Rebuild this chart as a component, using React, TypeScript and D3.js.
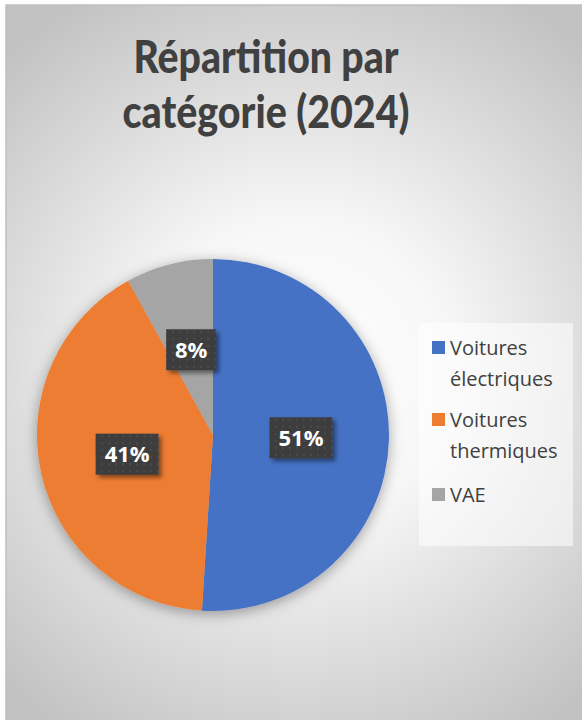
import React from "react";
import * as d3 from "d3";

// chart data
const categories = ["Voitures électriques", "Voitures thermiques", "VAE"];
const legendLines = [["Voitures", "électriques"], ["Voitures", "thermiques"], ["VAE"]];
const shares = [51, 41, 8];
const colors = ["#4472C4", "#ED7D31", "#A5A5A5"];
const titleLines = ["Répartition par", "catégorie (2024)"];
const titleWidths = [265, 287];

const W = 582;
const H = 720;
const cx = 213;
const cy = 435;
const radius = 176;

const App = () => {
  const data = shares.map((v, i) => ({ name: categories[i], value: v, color: colors[i] }));

  const pie = d3
    .pie<any>()
    .sort(null)
    .value((d) => d.value)
    .startAngle(0)
    .endAngle(2 * Math.PI);

  const arcs = pie(data);
  const arc = d3.arc<any>().innerRadius(0).outerRadius(radius);
  const total = d3.sum(shares);

  // legend rows: marker + wrapped label lines
  const legendX = 432;
  const itemTops = [341, 413, 488];

  return (
    <svg
      width={W}
      height={H}
      style={{ position: "absolute", left: 0, top: 0 }}
      fontFamily="'Open Sans', Lato, sans-serif"
    >
      <defs>
        <radialGradient id="bg" cx="300" cy="370" r="430" gradientUnits="userSpaceOnUse">
          <stop offset="0" stopColor="#ffffff" />
          <stop offset="0.35" stopColor="#f7f7f7" />
          <stop offset="1" stopColor="#c2c2c2" />
        </radialGradient>
        <filter id="pieShadow" x="-20%" y="-20%" width="140%" height="140%">
          <feDropShadow dx="0" dy="3" stdDeviation="7" floodColor="#000" floodOpacity="0.35" />
        </filter>
        <filter id="boxShadow" x="-30%" y="-30%" width="160%" height="160%">
          <feDropShadow dx="3" dy="3" stdDeviation="2" floodColor="#000" floodOpacity="0.45" />
        </filter>
        <pattern id="dots" width="7" height="7" patternUnits="userSpaceOnUse">
          <rect width="7" height="7" fill="#3d3d3d" />
          <rect x="2" y="2" width="2" height="2" fill="#4b4b4b" />
        </pattern>
      </defs>

      <rect x={0} y={0} width={W} height={H} fill="#ffffff" />
      <rect x={6} y={5} width={W + 10} height={H + 10} fill="url(#bg)" stroke="#c0c0c0" strokeWidth={1.5} />

      {titleLines.map((t, i) => (
        <text
          key={t}
          x={266}
          y={73 + i * 55}
          textAnchor="middle"
          fontSize={46}
          fontWeight={900}
          fill="#404040"
          fontFamily="Lato, sans-serif"
          textLength={titleWidths[i]}
          lengthAdjust="spacingAndGlyphs"
        >
          {t}
        </text>
      ))}

      <g transform={`translate(${cx},${cy})`}>
        <g filter="url(#pieShadow)">
          {arcs.map((a, i) => (
            <path key={i} d={arc(a) as string} fill={a.data.color} />
          ))}
        </g>
        {arcs.map((a, i) => {
          const [lx, ly] = arc.centroid(a);
          const label = `${Math.round((a.data.value / total) * 100)}%`;
          const bw = label.length === 2 ? 50 : 63;
          const bh = 41;
          return (
            <g key={"l" + i} transform={`translate(${lx},${ly})`}>
              <rect x={-bw / 2} y={-bh / 2} width={bw} height={bh} fill="url(#dots)" filter="url(#boxShadow)" />
              <text
                x={0}
                y={8}
                textAnchor="middle"
                fontSize={22}
                fontWeight="bold"
                fill="#ffffff"
              >
                {label}
              </text>
            </g>
          );
        })}
      </g>

      <rect x={419} y={323} width={154} height={223} fill="#ffffff" fillOpacity={0.55} />
      {data.map((d, i) => (
        <g key={d.name}>
          <rect x={legendX} y={itemTops[i]} width={13} height={13} fill={d.color} />
          {legendLines[i].map((line, j) => (
            <text key={line} x={450} y={itemTops[i] + 14 + j * 31} fontSize={20} fill="#404040">
              {line}
            </text>
          ))}
        </g>
      ))}
    </svg>
  );
};

export default App;
